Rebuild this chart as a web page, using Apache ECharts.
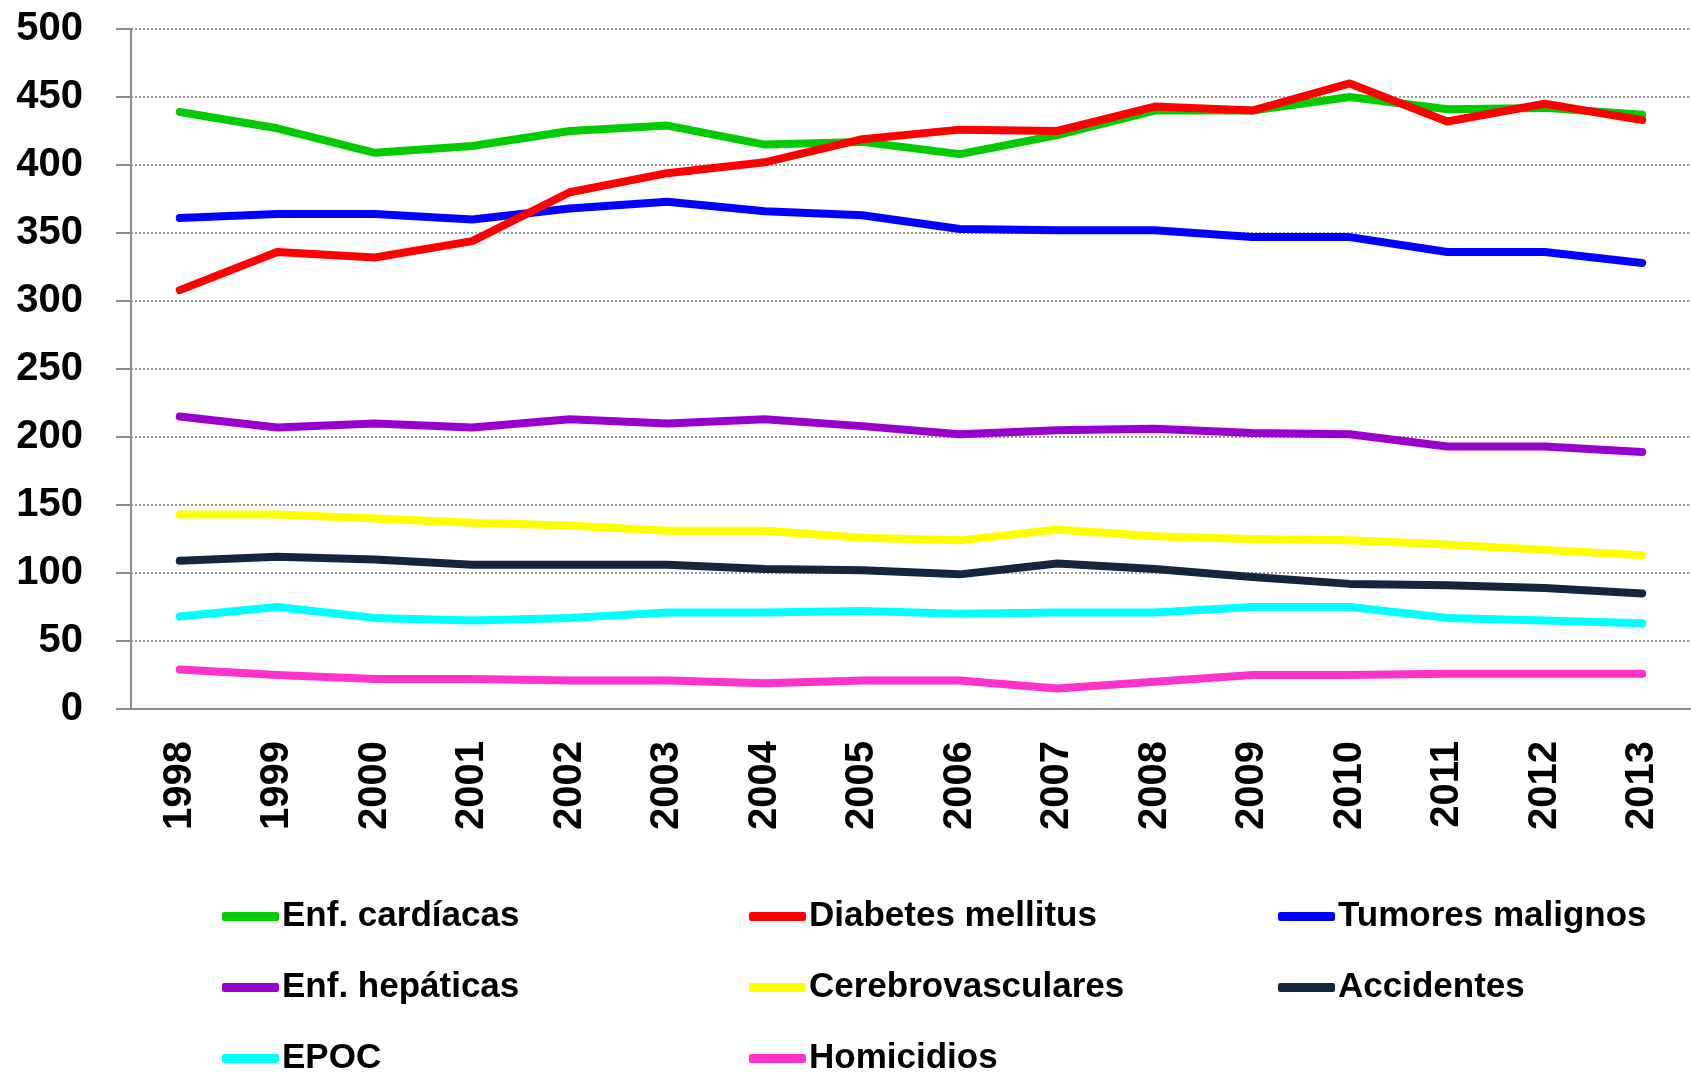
<!DOCTYPE html>
<html>
<head>
<meta charset="utf-8">
<script src="https://cdn.jsdelivr.net/npm/echarts@6/dist/echarts.min.js"></script>
<style>
html,body{margin:0;padding:0;background:#fff;}
#chart{width:1691px;height:1074px;}
</style>
</head>
<body>
<div id="chart"></div>
<script>
const years = ['1998','1999','2000','2001','2002','2003','2004','2005','2006','2007','2008','2009','2010','2011','2012','2013'];
const yTicks = [0,50,100,150,200,250,300,350,400,450,500];

const cardiacas = [439,427,409,414,425,429,415,417,408,422,440,440,450,441,442,437];
const diabetes = [308,336,332,344,380,394,402,419,426,425,443,440,460,432,445,433];
const tumores = [361,364,364,360,368,373,366,363,353,352,352,347,347,336,336,328];
const hepaticas = [215,207,210,207,213,210,213,208,202,205,206,203,202,193,193,189];
const cerebro = [143,143,140,137,135,131,131,126,124,132,127,125,124,121,117,113];
const accidentes = [109,112,110,106,106,106,103,102,99,107,103,97,92,91,89,85];
const epoc = [68,75,67,65,67,71,71,72,70,71,71,75,75,67,65,63];
const homicidios = [29,25,22,22,21,21,19,21,21,15,20,25,25,26,26,26];

const names = ['Enf. cardíacas','Diabetes mellitus','Tumores malignos','Enf. hepáticas','Cerebrovasculares','Accidentes','EPOC','Homicidios'];
const colors = ['#00CC00','#FF0000','#0000FF','#9900CC','#FFFF00','#13253F','#00FFFF','#FF33CC'];
const values = [cardiacas,diabetes,tumores,hepaticas,cerebro,accidentes,epoc,homicidios];
const drawOrder = [0,2,1,3,4,5,6,7];

const FONT = '"Liberation Sans", Arial, sans-serif';

const series = drawOrder.map(i => ({
  name: names[i],
  type: 'line',
  data: values[i],
  symbol: 'none',
  showSymbol: false,
  smooth: false,
  color: colors[i],
  itemStyle: {color: colors[i]},
  lineStyle: {color: colors[i], width: 8, cap: 'round', join: 'round'},
  emphasis: {disabled: true}
}));

// legend grid: 3 columns, row-major order
const colLeft = [222, 749, 1278];
const rowCenter = [916.5, 987.5, 1058.5];
const legends = names.map((n, i) => {
  const col = i % 3, row = Math.floor(i / 3);
  return {
    left: colLeft[col], top: rowCenter[row] - 20, orient: 'horizontal', padding: 0, itemGap: 0,
    icon: 'roundRect', itemWidth: 57, itemHeight: 9,
    selectedMode: false,
    data: [n],
    textStyle: {fontFamily: FONT, fontWeight: 'bold', fontSize: 35, color: '#000', lineHeight: 40, padding: [0,0,0,-2]}
  };
});

const chart = echarts.init(document.getElementById('chart'), null, {renderer: 'canvas'});
chart.setOption({
  animation: false,
  backgroundColor: '#fff',
  grid: {left: 131, top: 29, width: 1566, height: 680, containLabel: false},
  legend: legends,
  xAxis: {
    type: 'category',
    data: years,
    boundaryGap: true,
    axisLine: {show: true, lineStyle: {color: '#8C8C8C', width: 2}},
    axisTick: {show: false},
    axisLabel: {rotate: 90, margin: 32, fontFamily: FONT, fontWeight: 'bold', fontSize: 40, color: '#000', interval: 0},
    splitLine: {show: false}
  },
  yAxis: {
    type: 'value',
    min: yTicks[0], max: yTicks[yTicks.length-1], interval: 50,
    axisLine: {show: true, lineStyle: {color: '#8C8C8C', width: 2}},
    axisTick: {show: true, length: 15, lineStyle: {color: '#8C8C8C', width: 2}},
    axisLabel: {margin: 48, fontFamily: FONT, fontWeight: 'bold', fontSize: 40, color: '#000'},
    splitLine: {show: true, lineStyle: {color: '#999', width: 2, type: [2,2]}}
  },
  series: series
});
</script>
</body>
</html>
